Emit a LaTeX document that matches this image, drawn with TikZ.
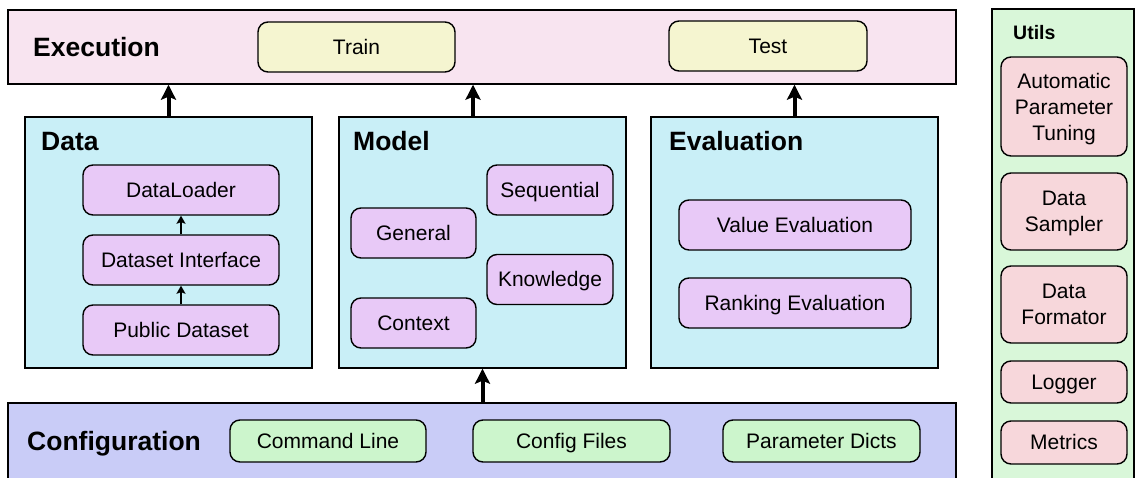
\documentclass[tikz,border=0pt]{standalone}
\usepackage{fontspec}
\setmainfont{Liberation Sans}
\usetikzlibrary{arrows.meta}
\definecolor{execfill}{RGB}{248,228,240}
\definecolor{runfill}{RGB}{245,245,208}
\definecolor{cyanfill}{RGB}{201,239,247}
\definecolor{purpfill}{RGB}{232,201,247}
\definecolor{conffill}{RGB}{201,204,247}
\definecolor{greenitem}{RGB}{204,245,204}
\definecolor{utilfill}{RGB}{217,247,217}
\definecolor{pinkitem}{RGB}{247,215,219}
\newcommand{\itemfont}{\fontsize{21}{26}\selectfont}
\newcommand{\titlefont}{\fontsize{26.5}{30}\selectfont\bfseries}
\tikzset{
  panel/.style={draw, line width=1.4pt, inner sep=0pt},
  item/.style={draw, line width=1.4pt, rounded corners=10pt, inner sep=0pt, align=center, font=\itemfont},
  oneline/.style={item, text height=19pt, text depth=4.45pt},
  title/.style={anchor=west, inner sep=0pt, font=\titlefont, text height=19pt, text depth=0pt},
  bigarrow/.style={line width=4pt, -{Stealth[length=15pt,width=15pt,inset=3pt]}},
  smallarrow/.style={line width=2.6pt, -{Stealth[length=8pt,width=9pt,inset=1.5pt]}}
}
\begin{document}
\begin{tikzpicture}[x=1pt,y=-1pt]
\useasboundingbox (0,0) rectangle (1136,477);
\clip (0,0) rectangle (1136,477);
% panels
\node[panel, fill=execfill, minimum width=948pt, minimum height=74pt] (exec) at (482,47) {};
\node[panel, fill=cyanfill, minimum width=287pt, minimum height=251pt] (data) at (168.5,242.5) {};
\node[panel, fill=cyanfill, minimum width=287pt, minimum height=251pt] (model) at (482.5,242.5) {};
\node[panel, fill=cyanfill, minimum width=287pt, minimum height=251pt] (eval) at (794.5,242.5) {};
\node[panel, fill=conffill, minimum width=948pt, minimum height=87pt] (config) at (482,446.5) {};
\node[panel, fill=utilfill, minimum width=142pt, minimum height=481pt] (utils) at (1063,249.5) {};
% titles
\node[title] (exectitle) at (33,47) {Execution};
\node[title] (datatitle) at (41,141) {Data};
\node[title] (modeltitle) at (353,141) {Model};
\node[title] (evaltitle) at (669,141) {Evaluation};
\node[title] (conftitle) at (27,441) {Configuration};
\node[anchor=west, inner sep=0pt, font=\fontsize{19.5}{24}\selectfont\bfseries] (utilstitle) at (1013,32.5) {Utils};
% execution items
\node[oneline, fill=runfill, minimum width=197pt, minimum height=50pt] (train) at (356.5,47) {Train};
\node[oneline, fill=runfill, minimum width=198pt, minimum height=50pt] (test) at (768,46) {Test};
% data items
\node[oneline, fill=purpfill, minimum width=196pt, minimum height=50pt] (loader) at (181,190) {DataLoader};
\node[oneline, fill=purpfill, minimum width=196pt, minimum height=50pt] (dsint) at (181,260) {Dataset Interface};
\node[oneline, fill=purpfill, minimum width=196pt, minimum height=50pt] (public) at (181,330) {Public Dataset};
% model items
\node[oneline, fill=purpfill, minimum width=125pt, minimum height=50pt] (general) at (413.5,233) {General};
\node[oneline, fill=purpfill, minimum width=125pt, minimum height=50pt] (context) at (413.5,323) {Context};
\node[oneline, fill=purpfill, minimum width=126pt, minimum height=50pt] (sequential) at (550,190) {Sequential};
\node[oneline, fill=purpfill, minimum width=126pt, minimum height=50pt] (knowledge) at (550,279.5) {Knowledge};
% evaluation items
\node[oneline, fill=purpfill, minimum width=232pt, minimum height=50pt] (value) at (795,225) {Value Evaluation};
\node[oneline, fill=purpfill, minimum width=232pt, minimum height=50pt] (ranking) at (795,303) {Ranking Evaluation};
% configuration items
\node[oneline, fill=greenitem, minimum width=196pt, minimum height=42pt] (cmdline) at (328,441) {Command Line};
\node[oneline, fill=greenitem, minimum width=197pt, minimum height=42pt] (cfgfiles) at (571.5,441) {Config Files};
\node[oneline, fill=greenitem, minimum width=197pt, minimum height=42pt] (pdicts) at (821.5,441) {Parameter Dicts};
% utils items
\node[item, fill=pinkitem, minimum width=126pt, minimum height=99pt] (autotune) at (1064,106.5) {};
\node[align=center, font=\itemfont, inner sep=0pt] (autotunetext) at (1064,109.5) {Automatic\\Parameter\\Tuning};
\node[item, fill=pinkitem, minimum width=126pt, minimum height=77pt] (sampler) at (1064,211.5) {};
\node[align=center, font=\itemfont, inner sep=0pt] (samplertext) at (1064,213) {Data\\Sampler};
\node[item, fill=pinkitem, minimum width=126pt, minimum height=77pt] (formator) at (1064,304.5) {Data\\Formator};
\node[oneline, fill=pinkitem, minimum width=126pt, minimum height=42pt] (logger) at (1064,382) {Logger};
\node[oneline, fill=pinkitem, minimum width=126pt, minimum height=43pt] (metrics) at (1064,442.5) {Metrics};
% arrows
\draw[bigarrow] (data.north) -- (data.north |- exec.south);
\draw[bigarrow] ([xshift=-9.5pt]model.north) -- ([xshift=-9.5pt]model.north |- exec.south);
\draw[bigarrow] (eval.north) -- (eval.north |- exec.south);
\draw[bigarrow] (model.south |- config.north) -- (model.south);
\draw[smallarrow] (dsint.north) -- (loader.south);
\draw[smallarrow] (public.north) -- (dsint.south);
\end{tikzpicture}
\end{document}
